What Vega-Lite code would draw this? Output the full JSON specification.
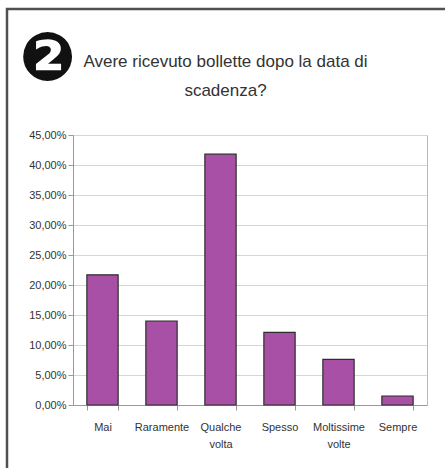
{
  "$schema": "https://vega.github.io/schema/vega-lite/v6.json",
  "autosize": {"type": "none"},
  "padding": {"left": 7, "top": 9, "right": 0, "bottom": 0},
  "width": 445,
  "height": 470,
  "background": "#ffffff",
  "config": {
    "view": {"stroke": "#505050", "strokeWidth": 2.5, "fill": "#ffffff"},
    "font": "Liberation Sans"
  },
  "title": {
    "text": ["Avere ricevuto bollette dopo la data di", "scadenza?"],
    "anchor": "middle",
    "frame": "group",
    "baseline": "top",
    "offset": 0,
    "dy": 91,
    "dx": -4,
    "font": "Liberation Sans",
    "fontSize": 17,
    "fontWeight": "normal",
    "lineHeight": 29,
    "color": "#333333"
  },
  "data": {
    "values": [
      {"risposta": "Mai", "valore": 0.217},
      {"risposta": "Raramente", "valore": 0.140},
      {"risposta": "Qualche volta", "valore": 0.418},
      {"risposta": "Spesso", "valore": 0.121},
      {"risposta": "Moltissime volte", "valore": 0.076},
      {"risposta": "Sempre", "valore": 0.015}
    ]
  },
  "resolve": {"axis": {"y": "independent"}},
  "layer": [
    {
      "mark": {"type": "bar", "color": "#a84fa6", "stroke": "#2e2e2e", "strokeWidth": 1.2},
      "encoding": {
        "x": {
          "field": "risposta",
          "type": "nominal",
          "sort": null,
          "scale": {"range": [66, 420], "paddingInner": 0.47, "paddingOuter": 0.235},
          "axis": {
            "title": null,
            "orient": "bottom",
            "offset": -74,
            "labelAngle": 0,
            "labelFont": "Liberation Sans",
            "labelFontSize": 11,
            "labelColor": "#333333",
            "labelPadding": 11,
            "labelLineHeight": 17,
            "labelExpr": "split(datum.label, ' ')",
            "tickBand": "extent",
            "tickSize": 5,
            "tickColor": "#999999",
            "domainColor": "#999999",
            "grid": false
          }
        },
        "y": {
          "field": "valore",
          "type": "quantitative",
          "scale": {"domain": [0, 0.45], "nice": false, "range": [396, 126]},
          "axis": {
            "title": "❷",
            "titleFont": "DejaVu Sans",
            "titleFontSize": 67,
            "titleColor": "#111111",
            "titleAngle": 0,
            "titleAlign": "center",
            "titleBaseline": "middle",
            "titleX": -26,
            "titleY": 50,
            "orient": "left",
            "offset": -66,
            "values": [0, 0.05, 0.1, 0.15, 0.2, 0.25, 0.3, 0.35, 0.4, 0.45],
            "labelExpr": "replace(format(datum.value, '.2%'), '.', ',')",
            "labelFont": "Liberation Sans",
            "labelFontSize": 11,
            "labelColor": "#333333",
            "labelPadding": 2,
            "tickSize": 5,
            "tickColor": "#999999",
            "domainColor": "#999999",
            "grid": true,
            "gridColor": "#d6d6d6",
            "gridWidth": 1.2
          }
        }
      }
    },
    {
      "mark": {"type": "bar", "opacity": 0},
      "encoding": {
        "x": {"field": "risposta", "type": "nominal", "sort": null},
        "y": {
          "field": "valore",
          "type": "quantitative",
          "axis": {
            "title": null,
            "orient": "right",
            "offset": -25,
            "labels": false,
            "ticks": false,
            "grid": false,
            "domainColor": "#bbbbbb"
          }
        }
      }
    }
  ]
}
